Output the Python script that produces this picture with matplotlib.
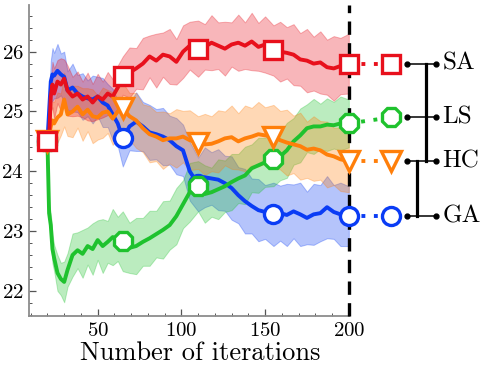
import matplotlib
matplotlib.use("Agg")
import matplotlib.pyplot as plt
from matplotlib.ticker import MultipleLocator

plt.rcParams['font.family'] = ['cmr10', 'DejaVu Serif']
plt.rcParams['axes.formatter.use_mathtext'] = True

# iteration grid
iters = [20, 21, 22, 23, 24, 26, 28, 30, 32, 35, 38, 41, 44, 47, 50, 53, 56, 59, 62, 65,
         69, 73, 77, 81, 85, 89, 93, 97, 101, 105, 110, 114, 118, 122, 126, 130, 134, 138,
         142, 146, 150, 155, 159, 163, 167, 171, 175, 179, 183, 187, 191, 195, 200]

sa = [24.5, 24.55, 25.25, 25.45, 25.3, 25.5, 25.45, 25.55, 25.35, 25.25, 25.3, 25.2, 25.25,
      25.15, 25.25, 25.2, 25.3, 25.25, 25.4, 25.6, 25.65, 25.72, 25.8, 25.92, 25.85, 25.95,
      25.92, 25.83, 26.0, 26.1, 26.05, 26.08, 26.15, 26.1, 26.05, 26.12, 26.15, 26.1, 26.17,
      26.08, 26.12, 26.02, 26.0, 25.98, 25.95, 25.87, 25.85, 25.8, 25.82, 25.74, 25.72,
      25.76, 25.8]
ga = [24.5, 25.0, 25.5, 25.62, 25.6, 25.68, 25.62, 25.58, 25.35, 25.4, 25.3, 25.25, 25.22,
      25.2, 25.25, 25.15, 25.1, 24.95, 24.8, 24.55, 24.75, 24.83, 24.75, 24.65, 24.62, 24.58,
      24.52, 24.42, 24.35, 24.0, 23.78, 23.9, 23.88, 23.86, 23.8, 23.72, 23.6, 23.5, 23.42,
      23.35, 23.32, 23.28, 23.3, 23.27, 23.33, 23.28, 23.22, 23.28, 23.3, 23.4, 23.32, 23.28,
      23.25]
hc = [24.5, 24.6, 24.75, 24.85, 24.8, 24.9, 24.95, 25.2, 24.95, 25.0, 25.08, 24.95, 25.03,
      24.92, 24.9, 24.98, 25.0, 24.88, 25.0, 25.05, 24.92, 24.85, 24.72, 24.62, 24.58, 24.52,
      24.55, 24.55, 24.58, 24.52, 24.48, 24.45, 24.46, 24.5, 24.55, 24.57, 24.5, 24.55, 24.58,
      24.62, 24.6, 24.58, 24.52, 24.48, 24.45, 24.42, 24.36, 24.38, 24.35, 24.28, 24.25,
      24.2, 24.17]
ls = [24.5, 23.3, 23.1, 22.7, 22.55, 22.3, 22.2, 22.15, 22.35, 22.6, 22.68, 22.62, 22.75,
      22.7, 22.85, 22.75, 22.82, 22.9, 22.87, 22.83, 22.72, 22.75, 22.82, 22.88, 22.95, 23.02,
      23.1, 23.25, 23.45, 23.65, 23.75, 23.62, 23.65, 23.7, 23.75, 23.82, 23.88, 23.93, 24.05,
      24.1, 24.15, 24.2, 24.25, 24.35, 24.5, 24.6, 24.72, 24.75, 24.75, 24.78, 24.77, 24.8,
      24.8]

# half widths of the shaded bands
sa_hw = [0.05, 0.1, 0.25, 0.38, 0.42, 0.36, 0.44, 0.32, 0.42, 0.33, 0.37, 0.3, 0.4, 0.31,
         0.38, 0.3, 0.36, 0.29, 0.37, 0.32, 0.42, 0.34, 0.43, 0.35, 0.45, 0.37, 0.46, 0.38,
         0.44, 0.4, 0.47, 0.38, 0.46, 0.39, 0.45, 0.37, 0.47, 0.39, 0.48, 0.4, 0.47, 0.42,
         0.5, 0.43, 0.51, 0.44, 0.53, 0.45, 0.52, 0.46, 0.54, 0.47, 0.5]
ga_hw = [0.05, 0.2, 0.35, 0.44, 0.38, 0.45, 0.35, 0.42, 0.32, 0.4, 0.31, 0.39, 0.3, 0.4,
         0.33, 0.41, 0.36, 0.43, 0.38, 0.47, 0.4, 0.49, 0.41, 0.46, 0.42, 0.48, 0.41, 0.47,
         0.43, 0.49, 0.45, 0.5, 0.44, 0.51, 0.46, 0.53, 0.47, 0.54, 0.46, 0.52, 0.45, 0.53,
         0.46, 0.52, 0.45, 0.53, 0.44, 0.51, 0.47, 0.52, 0.45, 0.53, 0.5]
hc_hw = [0.05, 0.15, 0.25, 0.32, 0.36, 0.42, 0.35, 0.45, 0.36, 0.43, 0.35, 0.44, 0.36, 0.45,
         0.37, 0.42, 0.36, 0.44, 0.38, 0.43, 0.39, 0.46, 0.4, 0.47, 0.41, 0.48, 0.42, 0.49,
         0.43, 0.5, 0.44, 0.51, 0.46, 0.52, 0.45, 0.53, 0.47, 0.55, 0.48, 0.54, 0.47, 0.53,
         0.49, 0.55, 0.48, 0.56, 0.47, 0.54, 0.49, 0.55, 0.48, 0.53, 0.52]
ls_hw = [0.05, 0.15, 0.2, 0.24, 0.22, 0.3, 0.27, 0.34, 0.28, 0.36, 0.3, 0.4, 0.31, 0.43,
         0.33, 0.45, 0.35, 0.47, 0.37, 0.5, 0.42, 0.47, 0.4, 0.46, 0.39, 0.48, 0.41, 0.47,
         0.4, 0.49, 0.42, 0.48, 0.41, 0.5, 0.43, 0.47, 0.41, 0.48, 0.4, 0.46, 0.41, 0.45,
         0.4, 0.46, 0.39, 0.45, 0.4, 0.46, 0.38, 0.44, 0.39, 0.45, 0.4]

marker_iters = [20, 65, 110, 155, 200]

# legend (right side)
names = ['SA', 'LS', 'HC', 'GA']
legend_y = [25.8, 24.9, 24.17, 23.25]

red = '#e8101c'
blue = '#0a3cf5'
orange = '#ff7f0a'
green = '#1fc22e'

series = [
    # (values, half width, colour, marker, marker size, legend row)
    (ga, ga_hw, blue, 'o', 13, 3),
    (ls, ls_hw, green, '8', 14, 1),
    (hc, hc_hw, orange, 'v', 15, 2),
    (sa, sa_hw, red, 's', 13, 0),
]

fig = plt.figure(figsize=(4.86, 3.74), dpi=100)
ax = fig.add_axes([0.0597, 0.155, 0.658, 0.8316])

for vals, hw, col, mk, ms, row in series:
    lo = [v - h for v, h in zip(vals, hw)]
    hi = [v + h for v, h in zip(vals, hw)]
    ax.fill_between(iters, lo, hi, color=col, alpha=0.3, lw=0.7, zorder=1)

for k, (vals, hw, col, mk, ms, row) in enumerate(series):
    ax.plot(iters, vals, color=col, lw=2.8, zorder=3 + k, solid_joinstyle='round')

ax.axvline(200, color='black', lw=2.4, ls=(0, (4, 2.5)), zorder=8, clip_on=False)

for k, (vals, hw, col, mk, ms, row) in enumerate(series):
    my = [vals[iters.index(m)] for m in marker_iters]
    ax.plot(marker_iters, my, ls='none', marker=mk, ms=ms, mfc='white', mec=col,
            mew=2.4, zorder=10 + k, clip_on=False)
    ax.plot([200, 225], [vals[-1], legend_y[row]], color=col, lw=2.8, ls=(0, (1, 2.2)),
            zorder=9, clip_on=False)
    ax.plot([225], [legend_y[row]], ls='none', marker=mk, ms=ms, mfc='white', mec=col,
            mew=2.4, zorder=10 + k, clip_on=False)

for y, name in zip(legend_y, names):
    ax.plot([235, 252], [y, y], color='black', lw=1.1, marker='o', ms=3.5, clip_on=False)
    ax.text(256, y, name, fontsize=18, va='center', ha='left')

ax.plot([246.4, 246.4], [legend_y[0], legend_y[2]], color='black', lw=2.3, clip_on=False)
ax.plot([241, 241], [legend_y[2], legend_y[3]], color='black', lw=2.3, clip_on=False)

ax.set_xlim(9, 200)
ax.set_ylim(21.58, 26.78)
ax.spines['top'].set_visible(False)
ax.spines['right'].set_visible(False)
for s in ['left', 'bottom']:
    ax.spines[s].set_color('#8c8c8c')
    ax.spines[s].set_linewidth(1.3)

ax.xaxis.set_major_locator(MultipleLocator(50))
ax.xaxis.set_minor_locator(MultipleLocator(10))
ax.yaxis.set_major_locator(MultipleLocator(1))
ax.yaxis.set_minor_locator(MultipleLocator(0.2))
ax.tick_params(which='both', direction='in', color='#555555', labelsize=15, pad=4)
ax.tick_params(which='major', length=5, width=0.9)
ax.tick_params(which='minor', length=2.5, width=0.7)
ax.set_xticks([50, 100, 150, 200])
ax.set_yticks([22, 23, 24, 25, 26])

ax.set_xlabel("Number of iterations", fontsize=19, labelpad=1, x=0.534)

fig.savefig("out.png", dpi=100)
